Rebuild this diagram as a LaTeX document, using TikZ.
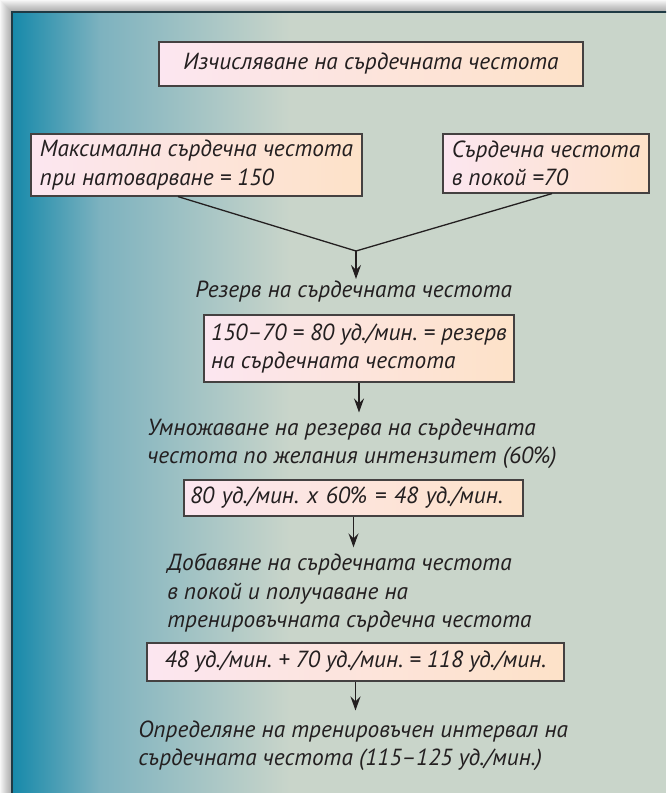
\documentclass[tikz,border=0pt]{standalone}
\usepackage{fontspec}
\setmainfont{PT Sans}
\usetikzlibrary{arrows.meta}
\frenchspacing

\definecolor{tuerkis}{HTML}{1689AA}
\definecolor{mittelblau}{HTML}{7DB2BF}
\definecolor{graugruen}{HTML}{C9D5CA}
\definecolor{rosa}{HTML}{FCE6F0}
\definecolor{creme}{HTML}{FFFBE2}
\definecolor{pfirsich}{HTML}{FDE2C8}
\definecolor{schrift}{HTML}{231F20}
\definecolor{rahmenfarbe}{HTML}{1F3A44}

\tikzset{
    kasten/.style={draw=schrift!85, line width=0.6pt, left color=rosa, middle color=creme, right color=pfirsich, inner sep=0pt, align=left, text=schrift},
    beschriftung/.style={anchor=west, align=left, inner xsep=0pt, inner ysep=3pt, text=schrift},
    pfeil/.style={draw=schrift, line width=0.65pt, -{Stealth[length=7pt, width=5pt, inset=2.5pt]}},
    linie/.style={draw=schrift, line width=0.65pt}
}

\begin{document}
\begin{tikzpicture}[x=0.5pt, y=-0.5pt, font=\itshape\fontsize{11.65}{14.25}\selectfont]

        \useasboundingbox (0,0) rectangle (666,793);
        \clip (0,0) rectangle (666,793);

        % Schatten
        \foreach \abstand in {0,...,11}
            \fill [black, opacity=0.03] (\abstand,\abstand) rectangle (666,793);

        % Hintergrund
        \fill [left color=tuerkis, right color=mittelblau] (12,12) rectangle (100,793);
        \fill [left color=mittelblau, right color=graugruen] (100,12) rectangle (290,793);
        \fill [graugruen] (290,12) rectangle (666,793);
        \draw [rahmenfarbe, line width=1pt] (12,12) rectangle (700,830);

        % Kaesten
        \node [kasten, align=center, minimum width=212pt, minimum height=22pt] (titel) at (371,64) {Изчисляване на сърдечната честота};
        \node [kasten, minimum width=165.5pt, minimum height=31pt] (maximal) at (196.5,165) {Максимална сърдечна честота\\при натоварване = 150};
        \node [kasten, minimum width=103pt, minimum height=29.5pt] (ruhe) at (546,163.5) {Сърдечна честота\\в покой =70};
        \node [kasten, minimum width=155pt, minimum height=33.5pt] (rechnung) at (359,348.5) {150–70 = 80 уд./мин. = резерв\\на сърдечната честота};
        \node [kasten, inner xsep=3pt, text width=163.5pt, minimum height=18pt] (prozent) at (353.5,498) {80 уд./мин. х 60\% = 48 уд./мин.};
        \node [kasten, minimum width=208.5pt, minimum height=19pt] (summe) at (355.5,662) {48 уд./мин. + 70 уд./мин. = 118 уд./мин.};

        % Beschriftungen
        \node [beschriftung, inner ysep=1pt] (reserve) at (195,292) {Резерв на сърдечната честота};
        \node [beschriftung] (multiplikation) at (147,444) {Умножаване на резерва на сърдечната\\честота по желания интензитет (60\%)};
        \node [beschriftung] (addition) at (167,593) {Добавяне на сърдечната честота\\в покой и получаване на\\тренировъчната сърдечна честота};
        \node [beschriftung, inner ysep=5pt] (intervall) at (138,746) {Определяне на тренировъчен интервал на\\сърдечната честота (115–125 уд./мин.)};

        % Verbindungen
        \coordinate (treffpunkt) at (356,251);
        \draw [linie] ([xshift=-9.25pt]maximal.south) -- (treffpunkt) -- ([xshift=3pt]ruhe.south);
        \draw [pfeil] (treffpunkt) -- (treffpunkt |- reserve.north);
        \draw [pfeil] (rechnung.south) -- (rechnung.south |- multiplikation.north);
        \draw [pfeil] (prozent.south) -- (prozent.south |- addition.north);
        \draw [pfeil] (summe.south) -- (summe.south |- intervall.north);

\end{tikzpicture}
\end{document}
